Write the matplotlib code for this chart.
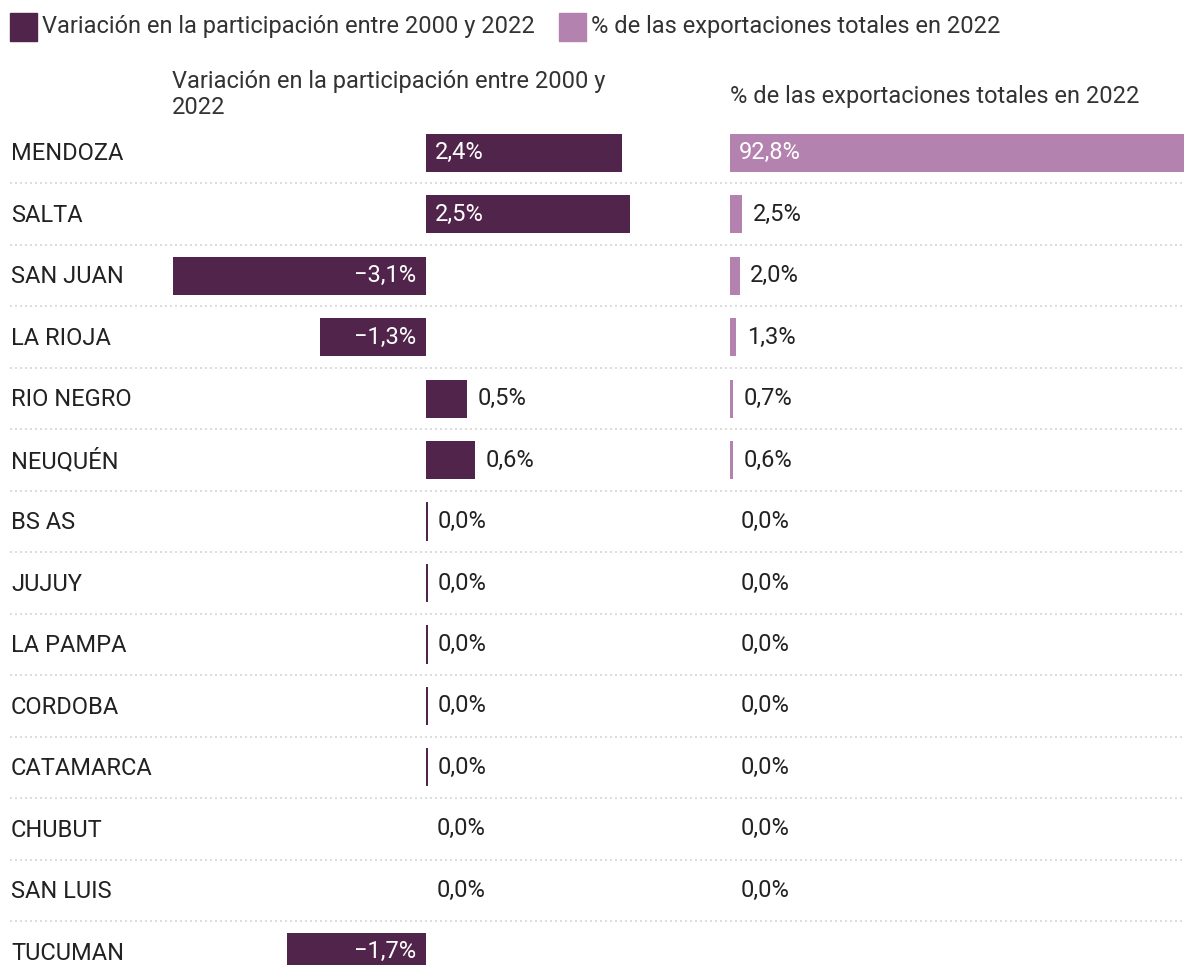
import numpy as np
import matplotlib
matplotlib.use("Agg")
import matplotlib.pyplot as plt
from matplotlib.patches import Rectangle

plt.rcParams["font.family"] = ["Roboto", "DejaVu Sans"]

# Data
provincias = ["MENDOZA", "SALTA", "SAN JUAN", "LA RIOJA", "RIO NEGRO", "NEUQUÉN",
              "BS AS", "JUJUY", "LA PAMPA", "CORDOBA", "CATAMARCA", "CHUBUT",
              "SAN LUIS", "TUCUMAN"]
variacion = [2.4, 2.5, -3.1, -1.3, 0.5, 0.6, 0.02, 0.02, 0.02, 0.02, 0.02, 0.0, 0.0, -1.7]
exportaciones = [92.8, 2.5, 2.0, 1.3, 0.7, 0.6, 0.0, 0.0, 0.0, 0.0, 0.0, 0.0, 0.0, np.nan]

serie1 = "Variación en la participación entre 2000 y 2022"
serie2 = "% de las exportaciones totales en 2022"

dark = "#51254b"
light = "#b382ae"
text_col = "#222222"
fs = 17

W, H = 1184, 965
fig = plt.figure(figsize=(W / 100, H / 100), dpi=100)

top_px = 122
n = len(provincias)
y = np.arange(n)
ylim = ((H - 153) / 61.45, -0.5)


def fmt(v):
    return f"{v:.1f}".replace(".", ",").replace("-", "\u2212") + "%"


def px_axes(x0, x1):
    return fig.add_axes([x0 / W, 0, (x1 - x0) / W, (H - top_px) / H])


# background axes in pixel x-units: separators and category names
bg = px_axes(0, W)
bg.set_xlim(0, W)
bg.set_ylim(*ylim)
bg.axis("off")
bg.hlines(y[:-1] + 0.5, 10, W, colors="#d6d6d6", linewidth=1.2,
          linestyles=(0, (1.2, 1.8)))
for i, p in enumerate(provincias):
    bg.text(11, i + 0.02, p, ha="left", va="center", fontsize=fs, color=text_col)

# left panel: variation
ax1 = px_axes(172, 680)
scale1 = 81.7
ax1.set_xlim(-(426 - 172) / scale1, (680 - 426) / scale1)
ax1.set_ylim(*ylim)
ax1.axis("off")
ax1.patch.set_alpha(0)
ax1.barh(y, variacion, height=0.62, color=dark)
for i, v in enumerate(variacion):
    w = abs(v) * scale1
    if w > 80:
        if v > 0:
            ax1.annotate(fmt(v), (0, i), xytext=(6.5, 0), textcoords="offset points",
                         ha="left", va="center", color="white", fontsize=fs)
        else:
            ax1.annotate(fmt(v), (0, i), xytext=(-7, 0), textcoords="offset points",
                         ha="right", va="center", color="white", fontsize=fs)
    else:
        ax1.annotate(fmt(v), (max(v, 0), i), xytext=(7.5, 0), textcoords="offset points",
                     ha="left", va="center", color=text_col, fontsize=fs)

# right panel: share of exports
ax2 = px_axes(730, W)
ax2.set_xlim(0, max(e for e in exportaciones if not np.isnan(e)))
ax2.set_ylim(*ylim)
ax2.axis("off")
ax2.patch.set_alpha(0)
ax2.barh(y, np.nan_to_num(exportaciones), height=0.62, color=light)
for i, v in enumerate(exportaciones):
    if np.isnan(v):
        continue
    if v > 15:
        ax2.annotate(fmt(v), (0, i), xytext=(6.5, 0), textcoords="offset points",
                     ha="left", va="center", color="white", fontsize=fs)
    else:
        ax2.annotate(fmt(v), (v, i), xytext=(7.5, 0), textcoords="offset points",
                     ha="left", va="center", color=text_col, fontsize=fs)

# column headers
fig.text(172 / W, 1 - 70 / H, "Variación en la participación entre 2000 y\n2022",
         ha="left", va="top", fontsize=fs, color="#333333", linespacing=1.15)
fig.text(730 / W, 1 - 96 / H, serie2, ha="left", va="center", fontsize=fs,
         color="#333333")

# legend
for xs, col, lab in [(10, dark, serie1), (559, light, serie2)]:
    fig.patches.append(Rectangle((xs / W, 1 - 41 / H), 27 / W, 28 / H,
                                 transform=fig.transFigure, color=col))
    fig.text((xs + 32) / W, 1 - 27 / H, lab, ha="left", va="center",
             fontsize=fs, color="#333333")

fig.savefig("out.png", dpi=100, facecolor="white")
